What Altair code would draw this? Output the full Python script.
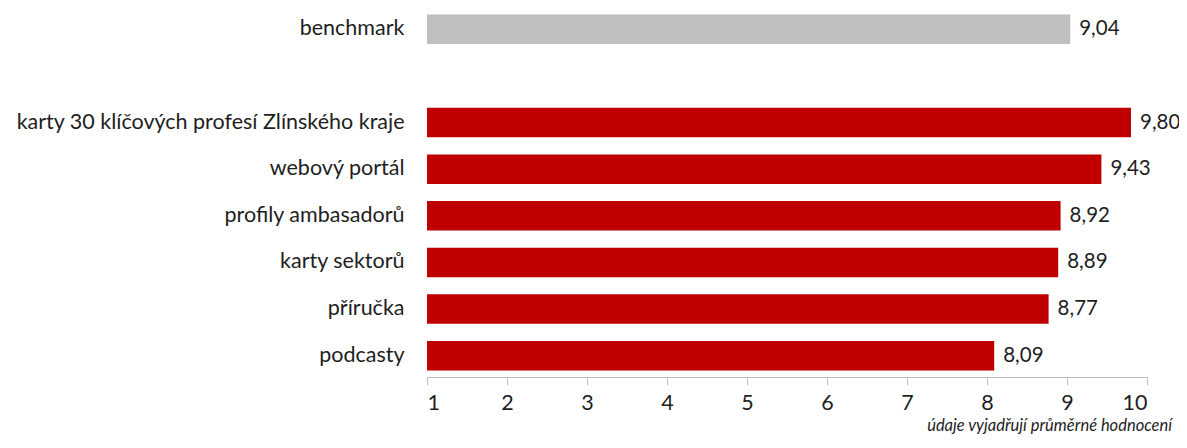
import altair as alt
import pandas as pd

categories = ["benchmark", "karty 30 klíčových profesí Zlínského kraje", "webový portál",
              "profily ambasadorů", "karty sektorů", "příručka", "podcasty"]
values = [9.04, 9.80, 9.43, 8.92, 8.89, 8.77, 8.09]
kinds = ["benchmark", "item", "item", "item", "item", "item", "item"]
domain_order = ["benchmark", " "] + categories[1:]
x_ticks = [1, 2, 3, 4, 5, 6, 7, 8, 9, 10]
footer = "údaje vyjadřují průměrné hodnocení"

df = pd.DataFrame({"cat": categories, "value": values, "kind": kinds})
df["base"] = 1
df["label"] = [f"{v:.2f}".replace(".", ",") for v in values]

FONT = "Lato"
FW = 400
FS = 21.5
TXT = "#1e1e1e"

y_enc = alt.Y("cat:N", sort=domain_order,
              scale=alt.Scale(domain=domain_order, paddingInner=0.367, paddingOuter=0.14),
              axis=alt.Axis(title=None, domain=False, ticks=False, labelPadding=23,
                            labelFontSize=FS, labelFont=FONT, labelFontWeight=FW,
                            labelColor=TXT, labelLimit=500))

base = alt.Chart(df)

bars = base.mark_bar().encode(
    x=alt.X("value:Q", scale=alt.Scale(domain=[1, 10], zero=False, nice=False),
            axis=alt.Axis(title=None, values=x_ticks, grid=False, domainColor="#bfbfbf",
                          tickColor="#bfbfbf", tickSize=8, labelPadding=7,
                          labelFontSize=FS, labelFont=FONT, labelFontWeight=FW,
                          labelColor=TXT, format="d")),
    x2="base:Q",
    y=y_enc,
    color=alt.Color("kind:N", scale=alt.Scale(domain=["benchmark", "item"],
                                              range=["#bfbfbf", "#c00000"]), legend=None),
)

labels = base.mark_text(align="left", baseline="middle", dx=9, fontSize=20.5,
                        font=FONT, fontWeight=FW, color=TXT).encode(
    x="value:Q", y=alt.Y("cat:N", sort=domain_order), text="label:N")

foot = alt.Chart(pd.DataFrame({"t": [footer]})).mark_text(
    align="right", baseline="alphabetic", fontSize=16.5, font=FONT, fontWeight=FW,
    fontStyle="italic", color=TXT).encode(
    x=alt.value(745), y=alt.value(423), text="t:N")

chart = alt.layer(bars, labels, foot).properties(
    width=720, height=369,
    autosize=alt.AutoSizeParams(type="none"),
    padding={"left": 419, "top": 0, "right": 32, "bottom": 59},
).configure_view(stroke=None)

chart.save("out.html", embed_options={"renderer": "svg", "actions": False})
